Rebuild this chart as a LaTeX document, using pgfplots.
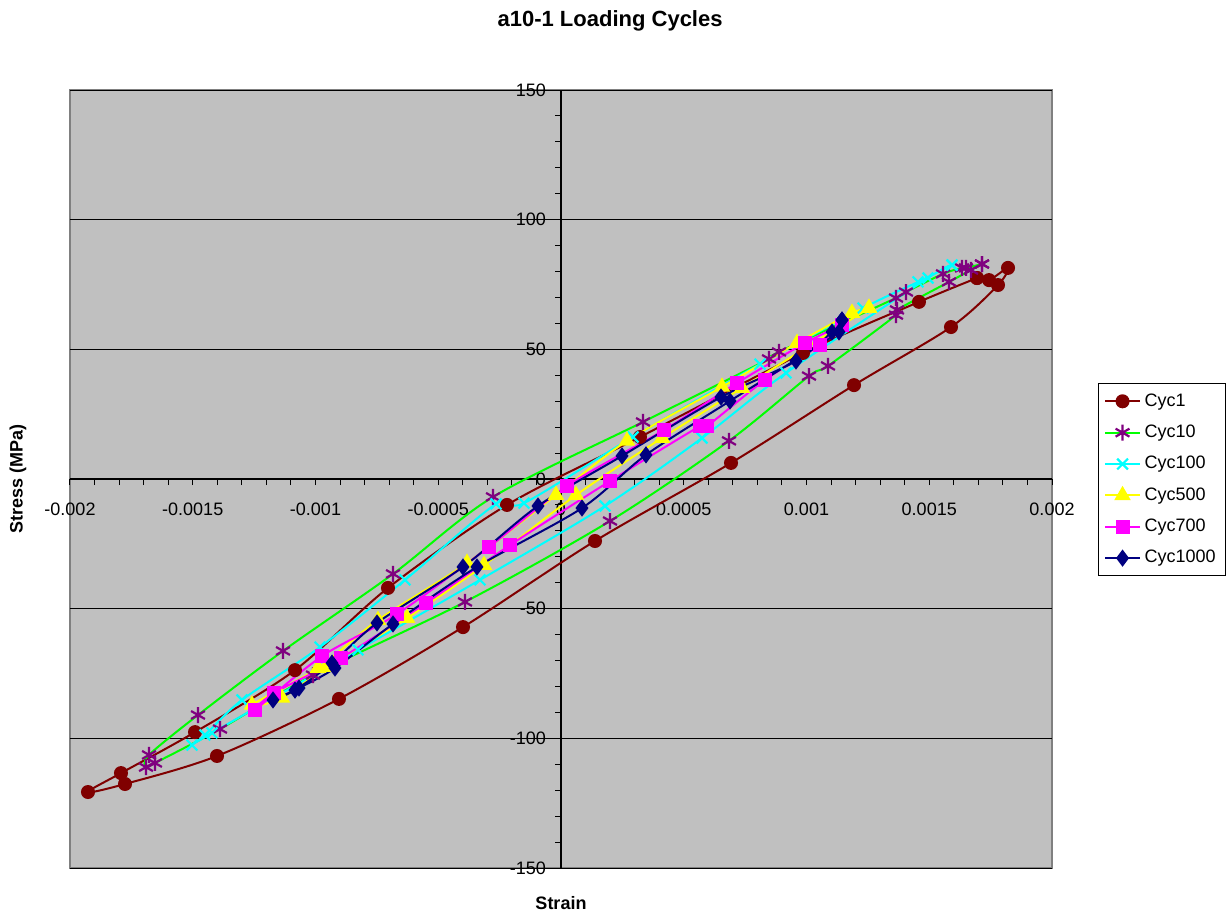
\documentclass[border=0pt]{standalone}
\usepackage{fontspec}
\setmainfont{Liberation Sans}
\usepackage{pgfplots}
\pgfplotsset{compat=1.18}
\definecolor{cA}{HTML}{800000}
\definecolor{cG}{HTML}{00FF00}
\definecolor{cP}{HTML}{800080}
\definecolor{cC}{HTML}{00FFFF}
\definecolor{cY}{HTML}{FFFF00}
\definecolor{cM}{HTML}{FF00FF}
\definecolor{cN}{HTML}{000080}
\definecolor{bg}{HTML}{C0C0C0}
\definecolor{fr}{HTML}{808080}
\begin{document}
\begin{tikzpicture}
\begin{axis}[
  name=ax,
  scale only axis, width=491pt, height=389pt,
  xmin=-0.002, xmax=0.002, ymin=-150, ymax=150,
  enlargelimits=false,
  axis lines=middle,
  axis line style={-, black, line width=0.6pt},
  axis background/.style={fill=bg, draw=fr, line width=0.6pt},
  hide obscured x ticks=false, hide obscured y ticks=false,
  xtick={-0.002,-0.0015,-0.001,-0.0005,0,0.0005,0.001,0.0015,0.002},
  xticklabels={-0.002,-0.0015,-0.001,-0.0005,0,0.0005,0.001,0.0015,0.002},
  scaled x ticks=false,
  ytick={-150,-100,-50,0,50,100,150},
  yticklabels={-150,-100,-50,0,50,100,150},
  minor x tick num=4, minor y tick num=4,
  tick align=outside,
  major tick length=3pt, minor tick length=3pt,
  tick style={black, line width=0.5pt},
  ymajorgrids, major grid style={black, line width=0.5pt},
  ticklabel style={font=\fontsize{9}{10}\selectfont},
  xticklabel style={yshift=-5.5pt},
  yticklabel style={xshift=-1pt},
  title={a10-1 Loading Cycles},
  title style={at={(axis description cs:0.55,1.073)}, anchor=center, font=\fontsize{11}{13}\selectfont\bfseries},
  xlabel={Strain}, ylabel={Stress (MPa)},
  xlabel style={at={(axis description cs:0.5,-0.045)}, anchor=center, font=\fontsize{9}{10}\selectfont\bfseries},
  ylabel style={at={(axis description cs:-0.053,0.5)}, anchor=center, rotate=90, font=\fontsize{9}{10}\selectfont\bfseries},
  legend style={at={(axis description cs:1.0468,0.6234)}, anchor=north west, draw=black, fill=white,
    font=\fontsize{9}{10}\selectfont, row sep=3.9pt, inner sep=3pt, line width=0.5pt},
  legend cell align=left,
  every axis plot/.append style={line width=1pt, smooth, tension=0.5},
]
\addplot[cA, mark=*, mark size=3pt, mark options={fill=cA, solid}] coordinates {
(0.0016945,77.5) (0.0017434,76.7) (0.0018208,81.4) (0.0017800,74.8) (0.0015886,58.6)
(0.0011935,36.2) (0.0006925,6.2) (0.0001385,-23.9) (-0.0003992,-57.1) (-0.0009043,-84.8)
(-0.0014012,-106.8) (-0.0017760,-117.6) (-0.0019267,-120.7) (-0.0017923,-113.4) (-0.0014908,-97.6)
(-0.0010835,-73.7) (-0.0007047,-42.0) (-0.0002200,-10.0) (0.0003218,16.2) (0.0009857,48.6)
(0.0014582,68.3) (0.0016945,77.5)};
\addlegendentry{Cyc1}
\addplot[cG, mark=asterisk, mark size=4pt, mark options={cP, solid, line width=1.1pt}] coordinates {
(0.0017149,82.9) (0.0016701,80.6) (0.0015804,76.0) (0.0013686,65.2) (0.0013646,63.2)
(0.0010876,43.6) (0.0010102,39.7) (0.0006843,14.7) (0.0001996,-16.2) (-0.0003910,-47.4)
(-0.0010102,-75.6) (-0.0013890,-96.4) (-0.0016538,-109.5) (-0.0016904,-111.1) (-0.0016782,-106.4)
(-0.0014786,-91.0) (-0.0011324,-66.3) (-0.0006843,-36.6) (-0.0002770,-6.9) (0.0003340,22.0)
(0.0008473,46.3) (0.0008880,49.0) (0.0013646,69.8) (0.0014053,72.1) (0.0015560,79.1)
(0.0016334,81.4) (0.0016497,81.4) (0.0017149,82.9)};
\addlegendentry{Cyc10}
\addplot[cC, mark=x, mark size=3.8pt, mark options={cC, solid, line width=1.1pt}] coordinates {
(0.0015927,82.5) (0.0014949,77.5) (0.0009165,40.9) (0.0005743,15.8) (0.0001792,-10.4)
(-0.0003299,-38.9) (-0.0008269,-65.9) (-0.0014216,-97.9) (-0.0015031,-102.6) (-0.0014501,-98.7)
(-0.0012994,-85.2) (-0.0009817,-64.8) (-0.0006354,-38.9) (-0.0002648,-9.6) (-0.0001507,-9.3)
(0.0002933,16.2) (0.0008106,44.3) (0.0012301,65.9) (0.0014542,76.0) (0.0015927,82.5)};
\addlegendentry{Cyc100}
\addplot[cY, mark=triangle*, mark size=3.8pt, mark options={fill=cY, solid}] coordinates {
(0.0012546,65.9) (0.0007373,35.1) (0.0004114,15.8) (0.0000611,-6.2) (-0.0003136,-33.2)
(-0.0006273,-53.6) (-0.0009532,-72.5) (-0.0011365,-84.4) (-0.0012587,-87.1) (-0.0009898,-72.9)
(-0.0007454,-54.4) (-0.0003829,-32.4) (-0.0000204,-6.2) (0.0002688,14.7) (0.0006558,35.5)
(0.0009613,52.4) (0.0011853,64.0) (0.0012546,65.9)};
\addlegendentry{Cyc500}
\addplot[cM, mark=square*, mark size=3pt, mark options={fill=cM, solid}] coordinates {
(0.0011446,59.4) (0.0010550,51.7) (0.0008310,38.2) (0.0005947,20.4) (0.0005662,20.4)
(0.0001996,-0.8) (-0.0002077,-25.5) (-0.0005499,-47.8) (-0.0008961,-69.0) (-0.0011690,-82.5)
(-0.0012464,-89.1) (-0.0009735,-68.3) (-0.0006680,-52.1) (-0.0002933,-26.2) (0.0000244,-2.7)
(0.0004196,18.9) (0.0007169,37.0) (0.0009939,52.4) (0.0011446,59.4)};
\addlegendentry{Cyc700}
\addplot[cN, mark=diamond*, mark size=3.5pt, mark options={fill=cN, solid}] coordinates {
(0.0011446,61.3) (0.0011324,56.7) (0.0006884,30.1) (0.0003462,9.3) (0.0000855,-11.2)
(-0.0003422,-33.9) (-0.0006843,-55.9) (-0.0009206,-72.9) (-0.0010672,-80.6) (-0.0011731,-85.2)
(-0.0010835,-81.4) (-0.0009328,-71.0) (-0.0007495,-55.5) (-0.0003992,-33.9) (-0.0000937,-10.4)
(0.0002485,8.9) (0.0006517,31.6) (0.0009572,45.5) (0.0011039,56.7) (0.0011446,61.3)};
\addlegendentry{Cyc1000}
\end{axis}
\pgfresetboundingbox
\path[use as bounding box] ([xshift=-35pt,yshift=-24.5pt]ax.south west) rectangle ([xshift=89pt,yshift=45pt]ax.north east);
\end{tikzpicture}
\end{document}
